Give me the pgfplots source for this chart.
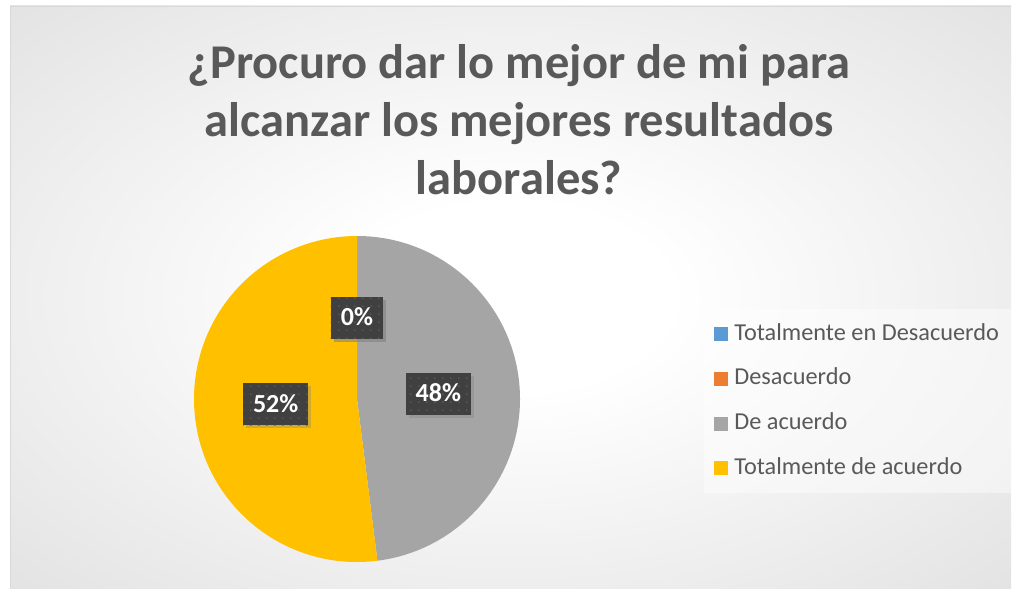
\documentclass[border=0pt]{standalone}
\usepackage{fontspec}
\setmainfont{Carlito}
\usepackage{pgfplots}
\usepackage{pgfplotstable}
\pgfplotsset{compat=1.18}
\usetikzlibrary{shadows,patterns.meta}

\definecolor{cblue}{HTML}{5B9BD5}
\definecolor{corange}{HTML}{ED7D31}
\definecolor{cgray}{HTML}{A5A5A5}
\definecolor{cyellow}{HTML}{FFC000}
\definecolor{tgray}{HTML}{595959}
\definecolor{lblfill}{HTML}{404040}
\definecolor{lbldot}{HTML}{555555}
\definecolor{bgedge}{HTML}{BFBFBF}

\pgfdeclareradialshading{chartbg}{\pgfpoint{0bp}{0bp}}{%
  color(0bp)=(white); color(8bp)=(white); color(71bp)=(bgedge)}

\tikzdeclarepattern{
  name=lbldots,
  type=uncolored,
  bounding box={(0pt,0pt) and (8pt,8pt)},
  tile size={(8pt,8pt)},
  code={\fill (2pt,2pt) rectangle (4pt,4pt);}
}

% share of each answer (%)
\pgfplotstableread{
pct
0
0
48
52
}\piedata

\tikzset{pielbl/.style={fill=lblfill, postaction={pattern=lbldots, pattern color=lbldot},
    drop shadow={shadow xshift=3pt, shadow yshift=-3pt, opacity=0.35},
    text=white, font=\bfseries\fontsize{26}{31}\selectfont,
    inner xsep=10pt, minimum height=42pt, text height=18pt, text depth=2pt}}

\begin{document}
\begin{tikzpicture}
\pgfplotstablegetelem{0}{pct}\of\piedata \edef\pA{\pgfplotsretval}
\pgfplotstablegetelem{1}{pct}\of\piedata \edef\pB{\pgfplotsretval}
\pgfplotstablegetelem{2}{pct}\of\piedata \edef\pC{\pgfplotsretval}
\pgfplotstablegetelem{3}{pct}\of\piedata \edef\pD{\pgfplotsretval}
% slices start at 12 o'clock and run clockwise
\pgfmathsetmacro\aA{90}
\pgfmathsetmacro\aB{\aA-3.6*\pA}
\pgfmathsetmacro\aC{\aB-3.6*\pB}
\pgfmathsetmacro\aD{\aC-3.6*\pC}
\pgfmathsetmacro\aE{\aD-3.6*\pD}
\pgfmathsetmacro\mA{(\aA+\aB)/2}
\pgfmathsetmacro\mB{(\aB+\aC)/2}
\pgfmathsetmacro\mC{(\aC+\aD)/2}
\pgfmathsetmacro\mD{(\aD+\aE)/2}
\def\cx{357}\def\cy{189}\def\R{163}
\begin{axis}[
  scale only axis, width=1016pt, height=588pt,
  xmin=0, xmax=1016, ymin=0, ymax=588,
  hide axis, clip=false,
  legend cell align=left,
  legend image code/.code={\fill[#1, draw=none, fill opacity=1] (0pt,-7pt) rectangle (14pt,7pt); \path (17pt,0pt);},
  legend style={at={(axis cs:704,279)}, anchor=north west,
    draw=none, fill=white, fill opacity=0.45, text opacity=1,
    inner xsep=10pt, inner ysep=14pt, row sep=22.7pt,
    font=\fontsize{24.3}{28}\selectfont, text=tgray,
    nodes={inner xsep=3pt, inner ysep=0pt, text height=17pt, text depth=5pt}},
]
\fill[white] (axis cs:0,0) rectangle (axis cs:1016,588);
\shade[shading=chartbg] (axis cs:10,0) rectangle (axis cs:1011,582);
\draw[draw=black!15, line width=0.75pt] (axis cs:10,0) -- (axis cs:10,582) -- (axis cs:1011,582);

\node[align=center, text=tgray, font=\bfseries\fontsize{48.5}{58}\selectfont]
  at (axis cs:519,468) {¿Procuro dar lo mejor de mi para\\alcanzar los mejores resultados\\laborales?};

\fill[cblue]   (axis cs:\cx,\cy) -- ++(\aA:\R pt) arc[start angle=\aA, end angle=\aB, radius=\R pt] -- cycle;
\fill[corange] (axis cs:\cx,\cy) -- ++(\aB:\R pt) arc[start angle=\aB, end angle=\aC, radius=\R pt] -- cycle;
\fill[cgray]   (axis cs:\cx,\cy) -- ++(\aC:\R pt) arc[start angle=\aC, end angle=\aD, radius=\R pt] -- cycle;
\fill[cyellow] (axis cs:\cx,\cy) -- ++(\aD:\R pt) arc[start angle=\aD, end angle=\aE, radius=\R pt] -- cycle;

\path (axis cs:\cx,\cy) ++(\mA:81.5pt) node[pielbl] {\pA\%};
\path (axis cs:\cx,\cy) ++(\mB:81.5pt) node[pielbl] {\pB\%};
\path (axis cs:\cx,\cy) ++(\mC:81.5pt) node[pielbl] {\pC\%};
\path (axis cs:\cx,\cy) ++(\mD:81.5pt) node[pielbl] {\pD\%};

\addlegendimage{fill=cblue}   \addlegendentry{Totalmente en Desacuerdo}
\addlegendimage{fill=corange} \addlegendentry{Desacuerdo}
\addlegendimage{fill=cgray}   \addlegendentry{De acuerdo}
\addlegendimage{fill=cyellow} \addlegendentry{Totalmente de acuerdo}
\end{axis}
\end{tikzpicture}
\end{document}
